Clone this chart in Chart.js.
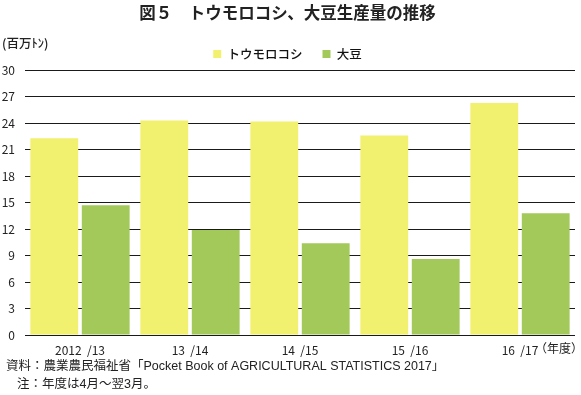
<!DOCTYPE html>
<html>
<head>
<meta charset="utf-8">
<script src="https://cdn.jsdelivr.net/npm/chart.js@4/dist/chart.umd.min.js"></script>
<style>
  html, body { margin: 0; padding: 0; background: #fff; }
  #wrap { width: 581px; height: 395px; position: relative; }
</style>
</head>
<body>
<div id="wrap"><canvas id="chart"></canvas></div>
<script>
const categories = ['2012  /13', '13  /14', '14  /15', '15  /16', '16  /17'];
const cornValues = [22.3, 24.3, 24.2, 22.6, 26.3];
const soyValues = [14.7, 11.9, 10.4, 8.6, 13.8];
const seriesNames = ['トウモロコシ', '大豆'];
const yTicks = [0, 3, 6, 9, 12, 15, 18, 21, 24, 27, 30];

const jpFont = '"Noto Sans CJK JP", "Noto Sans", sans-serif';
const mixFont = '"Liberation Sans", "Noto Sans CJK JP", sans-serif';
const numFont = '"Liberation Sans Narrow", "Noto Sans CJK JP", sans-serif';

// unit label, year label and source notes
const notesPlugin = {
  id: 'notes',
  afterDraw(chart) {
    const ctx = chart.ctx;
    const area = chart.chartArea;
    ctx.save();
    ctx.fillStyle = '#222';
    ctx.textBaseline = 'middle';
    ctx.textAlign = 'left';
    ctx.font = '500 12.5px ' + jpFont;
    ctx.fillText('(百万ﾄﾝ)', 2, 43);
    ctx.font = '12px ' + mixFont;
    ctx.fillText('（年度）', 535, area.bottom + 15);
    ctx.font = '12.5px ' + mixFont;
    ctx.fillText('資料：農業農民福祉省「Pocket Book of AGRICULTURAL STATISTICS 2017」', 6, 367);
    ctx.fillText('注：年度は4月～翌3月。', 17, 385);
    ctx.restore();
  }
};

new Chart(document.getElementById('chart'), {
  type: 'bar',
  data: {
    labels: categories,
    datasets: [{
      label: seriesNames[0],
      data: cornValues,
      backgroundColor: '#f2f06f'
    }, {
      label: seriesNames[1],
      data: soyValues,
      backgroundColor: '#a3c95b'
    }]
  },
  options: {
    responsive: true,
    maintainAspectRatio: false,
    animation: false,
    devicePixelRatio: 1,
    categoryPercentage: 0.935,
    barPercentage: 0.93,
    layout: {
      padding: { left: 0, right: 6, top: 0, bottom: 30 }
    },
    plugins: {
      title: {
        display: true,
        text: '図５　トウモロコシ、大豆生産量の推移',
        color: '#222',
        font: { size: 16.5, weight: 'bold', family: jpFont },
        padding: { top: 3, bottom: 5 }
      },
      legend: {
        position: 'top',
        labels: {
          boxWidth: 8,
          boxHeight: 8,
          padding: 20,
          color: '#111',
          font: { size: 12.5, weight: 500, family: jpFont }
        }
      },
      tooltip: { enabled: false }
    },
    scales: {
      x: {
        grid: { display: false, drawTicks: false },
        border: { display: false },
        ticks: {
          color: '#222',
          padding: 8,
          font: { size: 12, family: numFont }
        },
        afterFit(scale) { scale.height = 30; }
      },
      y: {
        min: 0,
        max: 30,
        afterBuildTicks(scale) { scale.ticks = yTicks.map(v => ({ value: v })); },
        grid: { color: '#1a1a1a', lineWidth: 1, drawTicks: false },
        border: { display: false },
        ticks: {
          color: '#222',
          padding: 10,
          font: { size: 12, family: numFont }
        },
        afterFit(scale) { scale.width = 25; }
      }
    }
  },
  plugins: [notesPlugin]
});
</script>
</body>
</html>
